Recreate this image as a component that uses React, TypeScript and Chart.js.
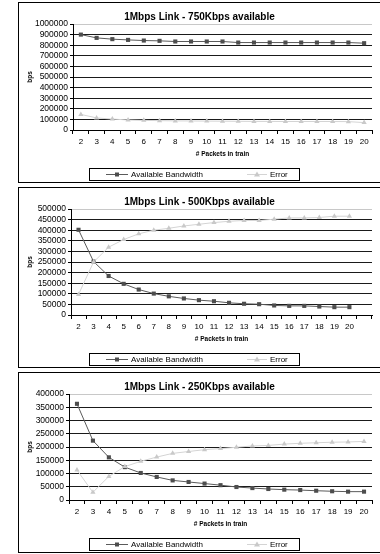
import React, { useEffect, useRef } from 'react';
import { Chart, registerables } from 'chart.js';

Chart.register(...registerables);

// ---------- data ----------
const packets = ['2', '3', '4', '5', '6', '7', '8', '9', '10', '11', '12', '13', '14', '15', '16', '17', '18', '19', '20'];
const packets500 = [...packets, ''];

const bw750 = [900000, 869000, 857000, 850000, 844000, 841000, 835000, 835000, 835000, 835000, 825000, 825000, 825000, 825000, 825000, 825000, 825000, 825000, 819000];
const err750 = [147000, 114000, 103000, 95000, 91000, 88000, 86000, 85000, 84000, 83000, 82000, 81000, 81000, 80000, 80000, 80000, 80000, 79000, 70000];

const bw500 = [402000, 252000, 184000, 147000, 120000, 101000, 88000, 78000, 70000, 65000, 57500, 53000, 51000, 45000, 43000, 43000, 40000, 37000, 37000];
const err500 = [97000, 250000, 320000, 356000, 383000, 400000, 409000, 420000, 428000, 436000, 442000, 446000, 446000, 452000, 458000, 458000, 460000, 466000, 466000];

const bw250 = [363000, 224000, 161000, 124000, 102000, 87000, 74000, 68000, 62000, 56000, 49000, 45000, 41500, 39000, 37500, 35000, 33000, 31500, 31500];
const err250 = [113000, 29000, 89000, 126000, 146000, 162000, 176000, 183000, 190000, 194000, 199000, 204000, 206000, 211000, 214000, 216000, 218000, 219000, 221000];

const titles = ['1Mbps Link - 750Kbps available', '1Mbps Link - 500Kbps available', '1Mbps Link - 250Kbps available'];
const seriesNames = ['Available Bandwidth', 'Error'];
const xTitle = '# Packets in train';
const yTitle = 'bps';
const yMaxes = [1000000, 500000, 400000];
const ySteps = [100000, 50000, 50000];

// ---------- styles ----------
const FONT = 'Arial, "Liberation Sans", sans-serif';
const BW_LINE = '#5a5a5a';
const BW_MARK = '#4d4d4d';
const ERR_LINE = '#d4d4d4';
const ERR_MARK = '#c9c9c9';
const CANVAS_W = 361;
const CANVAS_H = 179;

const titleWidenPlugin = {
  id: 'titleWiden',
  afterLayout(chart: any) {
    const t = chart.titleBlock;
    if (t) {
      t.left = 0;
      t.right = chart.width;
      t.width = chart.width;
    }
  },
};

const boxLegendPlugin = {
  id: 'boxLegend',
  afterDraw(chart: any) {
    const ctx: CanvasRenderingContext2D = chart.ctx;
    const ds = chart.data.datasets;
    ctx.save();
    const left = 70.5;
    const top = 165.5;
    const w = 210;
    const h = 12;
    ctx.strokeStyle = '#000';
    ctx.lineWidth = 1;
    ctx.strokeRect(left, top, w, h);
    const cy = 171.5;
    ctx.font = `8px ${FONT}`;
    ctx.textBaseline = 'middle';
    ctx.textAlign = 'left';

    // item 1
    let x = 87;
    ctx.strokeStyle = BW_LINE;
    ctx.beginPath();
    ctx.moveTo(x, cy);
    ctx.lineTo(x + 22, cy);
    ctx.stroke();
    ctx.fillStyle = BW_MARK;
    ctx.fillRect(x + 11 - 2, cy - 2, 4, 4);
    ctx.fillStyle = '#000';
    ctx.fillText(ds[0].label, x + 25, cy);

    // item 2
    x = 228;
    ctx.strokeStyle = ERR_LINE;
    ctx.beginPath();
    ctx.moveTo(x, cy);
    ctx.lineTo(x + 20, cy);
    ctx.stroke();
    ctx.fillStyle = ERR_MARK;
    ctx.beginPath();
    ctx.moveTo(x + 10, cy - 3);
    ctx.lineTo(x + 13, cy + 2);
    ctx.lineTo(x + 7, cy + 2);
    ctx.closePath();
    ctx.fill();
    ctx.fillStyle = '#000';
    ctx.fillText(ds[1].label, x + 23, cy);
    ctx.restore();
  },
};

type Props = {
  title: string;
  labels: string[];
  bw: number[];
  err: number[];
  yMax: number;
  yStep: number;
  yWidth: number;
};

function PanelChart({ title, labels, bw, err, yMax, yStep, yWidth }: Props) {
  const ref = useRef<HTMLCanvasElement | null>(null);
  useEffect(() => {
    if (!ref.current) return;
    Chart.defaults.font.family = FONT;
    Chart.defaults.color = '#000';
    const chart = new Chart(ref.current, {
      type: 'line',
      data: {
        labels,
        datasets: [
          {
            label: seriesNames[0],
            data: bw,
            borderColor: BW_LINE,
            backgroundColor: BW_MARK,
            borderWidth: 1,
            pointStyle: 'rect',
            pointRadius: 2.9,
            pointBorderWidth: 0,
            pointBackgroundColor: BW_MARK,
            tension: 0,
            fill: false,
            order: 1,
          },
          {
            label: seriesNames[1],
            data: err,
            borderColor: ERR_LINE,
            backgroundColor: ERR_MARK,
            borderWidth: 1,
            pointStyle: 'triangle',
            pointRadius: 3,
            pointBorderWidth: 0,
            pointBackgroundColor: ERR_MARK,
            tension: 0,
            fill: false,
            order: 0,
          },
        ],
      },
      options: {
        responsive: false,
        animation: false,
        devicePixelRatio: 1,
        events: [],
        layout: { padding: { top: 0, left: 0, right: 8, bottom: 16 } },
        plugins: {
          legend: { display: false },
          tooltip: { enabled: false },
          title: {
            display: true,
            text: title,
            color: '#000',
            font: { family: FONT, size: 10, weight: 'bold', lineHeight: 1.2 },
            padding: { top: 8, bottom: 1 },
          },
        },
        scales: {
          x: {
            type: 'category',
            offset: true,
            grid: {
              display: true,
              drawOnChartArea: false,
              drawTicks: true,
              tickLength: 4,
              color: '#000',
              offset: true,
            },
            border: { display: true, color: '#000', width: 1 },
            ticks: {
              color: '#000',
              font: { family: FONT, size: 8, lineHeight: 1.2 },
              maxRotation: 0,
              minRotation: 0,
              autoSkip: false,
              padding: 3,
            },
            title: {
              display: true,
              text: xTitle,
              color: '#000',
              font: { family: FONT, size: 6.5, weight: 'bold', lineHeight: 1.2 },
              padding: { top: 0, bottom: 8 },
            },
            afterFit: (s: any) => {
              s.height = 36;
            },
          },
          y: {
            min: 0,
            max: yMax,
            ticks: {
              stepSize: yStep,
              autoSkip: false,
              color: '#000',
              font: { family: FONT, size: 8.5, lineHeight: 1.2 },
              padding: 2,
              callback: (v: any) => String(v),
            },
            grid: {
              color: (c: any) => (c.tick && c.tick.value === yMax ? '#c8c8c8' : '#1a1a1a'),
              tickColor: '#000',
              tickLength: 3,
              lineWidth: 1,
            },
            border: { display: true, color: '#000', width: 1 },
            title: {
              display: true,
              text: yTitle,
              color: '#000',
              font: { family: FONT, size: 6.5, weight: 'bold', lineHeight: 1.2 },
              padding: { top: 7, bottom: 0 },
            },
            afterFit: (s: any) => {
              s.width = yWidth;
            },
          },
        },
      } as any,
      plugins: [titleWidenPlugin, boxLegendPlugin],
    });
    return () => chart.destroy();
  }, [title, labels, bw, err, yMax, yStep, yWidth]);

  return (
    <canvas
      ref={ref}
      width={CANVAS_W}
      height={CANVAS_H}
      style={{ display: 'block', width: CANVAS_W, height: CANVAS_H }}
    />
  );
}

const panels = [
  { labels: packets, bw: bw750, err: err750, yWidth: 54 },
  { labels: packets500, bw: bw500, err: err500, yWidth: 52 },
  { labels: packets, bw: bw250, err: err250, yWidth: 50 },
];

export default function App() {
  return (
    <div
      style={{
        position: 'absolute',
        left: 0,
        top: 0,
        width: 380,
        height: 554,
        overflow: 'hidden',
        background: '#fff',
      }}
    >
      {panels.map((p, i) => (
        <div
          key={i}
          style={{
            position: 'absolute',
            left: 18,
            top: 2 + i * 185,
            width: 362,
            height: 181,
            boxSizing: 'border-box',
            borderTop: '1px solid #000',
            borderLeft: '1px solid #000',
            borderBottom: '1px solid #000',
            background: '#fff',
          }}
        >
          <PanelChart
            title={titles[i]}
            labels={p.labels}
            bw={p.bw}
            err={p.err}
            yMax={yMaxes[i]}
            yStep={ySteps[i]}
            yWidth={p.yWidth}
          />
        </div>
      ))}
    </div>
  );
}
